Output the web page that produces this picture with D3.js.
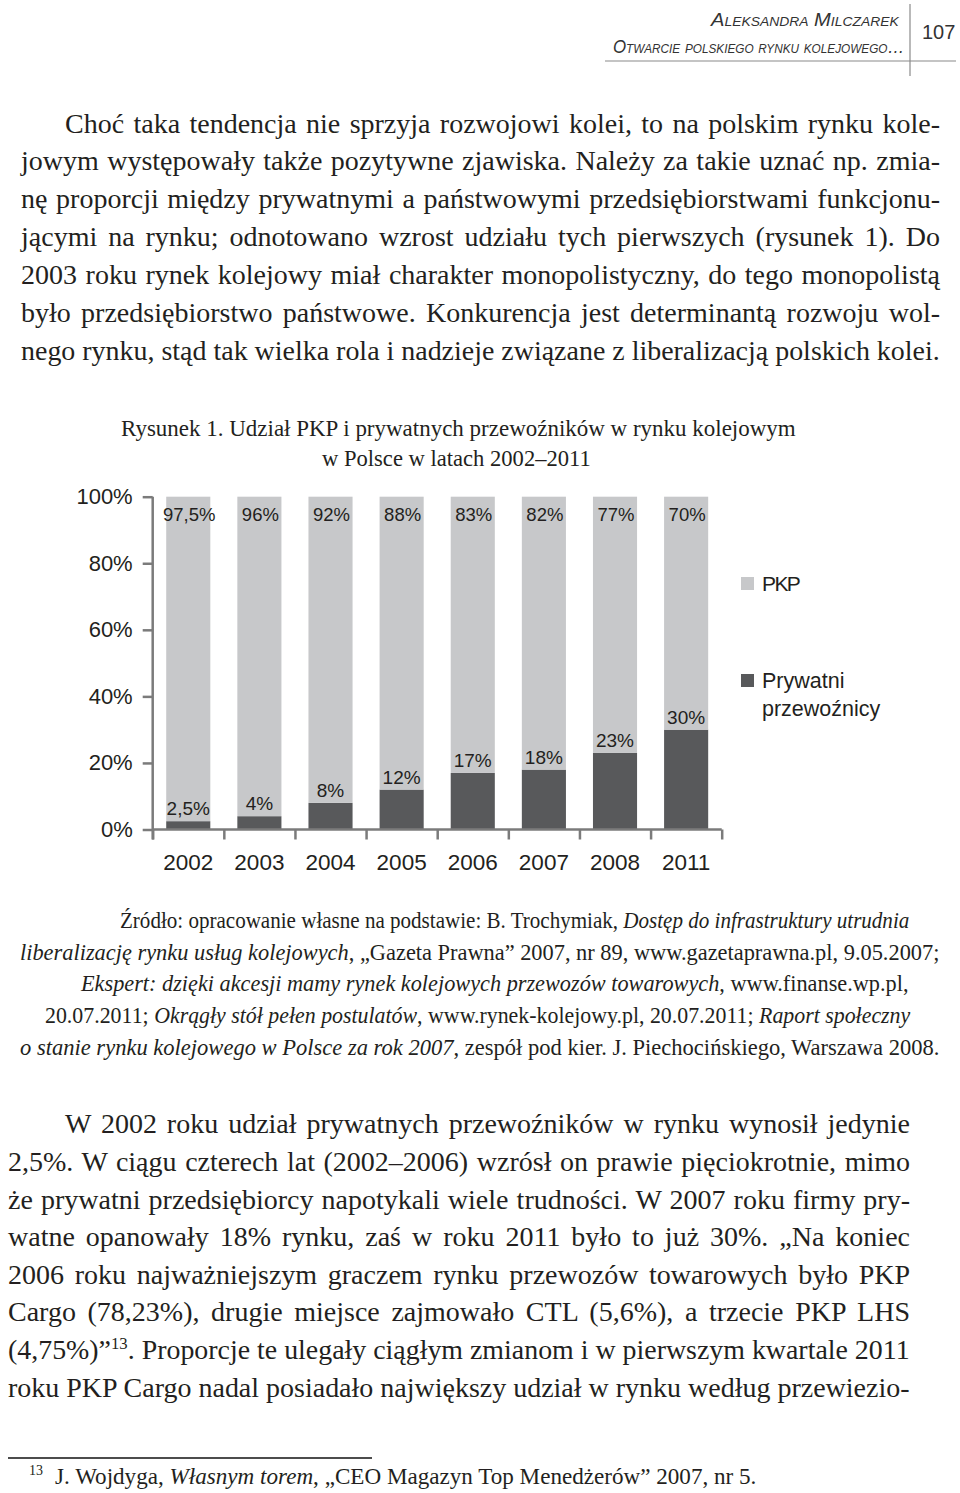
<!DOCTYPE html>
<html><head><meta charset="utf-8">
<script src="https://cdn.jsdelivr.net/npm/d3@7"></script>
<style>html,body{margin:0;padding:0;background:#fff;}svg{display:block;}</style>
</head><body>
<script>
// ---------- DATA ----------
const years = ["2002","2003","2004","2005","2006","2007","2008","2011"];
const pkp = [97.5,96,92,88,83,82,77,70];
const prywatni = [2.5,4,8,12,17,18,23,30];
const yTicks = [0,20,40,60,80,100];
const seriesNames = ["PKP","Prywatni przewoźnicy"];

const headerLines = ["Aleksandra Milczarek","Otwarcie polskiego rynku kolejowego…"];
const pageNumber = "107";
const captionLines = ["Rysunek 1. Udział PKP i prywatnych przewoźników w rynku kolejowym","w Polsce w latach 2002–2011"];
const para1 = [
 "Choć taka tendencja nie sprzyja rozwojowi kolei, to na polskim rynku kole-",
 "jowym występowały także pozytywne zjawiska. Należy za takie uznać np. zmia-",
 "nę proporcji między prywatnymi a państwowymi przedsiębiorstwami funkcjonu-",
 "jącymi na rynku; odnotowano wzrost udziału tych pierwszych (rysunek 1). Do",
 "2003 roku rynek kolejowy miał charakter monopolistyczny, do tego monopolistą",
 "było przedsiębiorstwo państwowe. Konkurencja jest determinantą rozwoju wol-",
 "nego rynku, stąd tak wielka rola i nadzieje związane z liberalizacją polskich kolei."
];
const para2 = [
 [{t:"W 2002 roku udział prywatnych przewoźników w rynku wynosił jedynie"}],
 [{t:"2,5%. W ciągu czterech lat (2002–2006) wzrósł on prawie pięciokrotnie, mimo"}],
 [{t:"że prywatni przedsiębiorcy napotykali wiele trudności. W 2007 roku firmy pry-"}],
 [{t:"watne opanowały 18% rynku, zaś w roku 2011 było to już 30%. „Na koniec"}],
 [{t:"2006 roku najważniejszym graczem rynku przewozów towarowych było PKP"}],
 [{t:"Cargo (78,23%), drugie miejsce zajmowało CTL (5,6%), a trzecie PKP LHS"}],
 [{t:"(4,75%)”"},{t:"13",sup:true},{t:". Proporcje te ulegały ciągłym zmianom i w pierwszym kwartale 2011"}],
 [{t:"roku PKP Cargo nadal posiadało największy udział w rynku według przewiezio-"}]
];
const sourceLines = [
 [{t:"Źródło: opracowanie własne na podstawie: B. Trochymiak, "},{t:"Dostęp do infrastruktury utrudnia",i:true}],
 [{t:"liberalizację rynku usług kolejowych",i:true},{t:", „Gazeta Prawna” 2007, nr 89, www.gazetaprawna.pl, 9.05.2007;"}],
 [{t:"Ekspert: dzięki akcesji mamy rynek kolejowych przewozów towarowych",i:true},{t:", www.finanse.wp.pl,"}],
 [{t:"20.07.2011; "},{t:"Okrągły stół pełen postulatów",i:true},{t:", www.rynek-kolejowy.pl, 20.07.2011; "},{t:"Raport społeczny",i:true}],
 [{t:"o stanie rynku kolejowego w Polsce za rok 2007",i:true},{t:", zespół pod kier. J. Piechocińskiego, Warszawa 2008."}]
];
const footnoteNum = "13";
const footnote = [{t:"J. Wojdyga, "},{t:"Własnym torem",i:true},{t:", „CEO Magazyn Top Menedżerów” 2007, nr 5."}];

// ---------- SETUP ----------
const W = 960, H = 1493;
const svg = d3.select("body").append("svg").attr("width", W).attr("height", H);
const SERIF = "'Liberation Serif','Times New Roman',serif";
const SANS = "'Liberation Sans',Arial,sans-serif";
const INK = "#231f20";

function drawLine(parent, segs, x0, x1, y, o) {
  const t = parent.append("text")
    .attr("transform", `translate(${x0},${y})`)
    .style("white-space", "pre")
    .attr("font-family", o.family).attr("font-size", o.size)
    .attr("fill", o.fill || INK);
  if (o.variant) t.style("font-variant", o.variant);
  if (o.italic) t.attr("font-style", "italic");
  let prevSup = false;
  segs.forEach(s => {
    const ts = t.append("tspan").text(s.t);
    if (s.i) ts.attr("font-style", "italic");
    if (s.sup) { ts.attr("font-size", o.size * 0.6).attr("dy", -o.size * 0.35); prevSup = true; }
    else if (prevSup) { ts.attr("dy", o.size * 0.35); prevSup = false; }
  });
  const w = t.node().getComputedTextLength();
  const target = x1 - x0;
  const text = segs.map(s => s.t).join("");
  const n = (text.match(/ /g) || []).length;
  if (o.mode === "justify" && w <= target && n > 0) {
    t.style("word-spacing", ((target - w) / n) + "px");
  } else if (o.mode === "justify" || o.mode === "scale") {
    t.attr("transform", `translate(${x0},${y}) scale(${target / w},1)`);
  }
  return t;
}

// ---------- HEADER ----------
const hdr = svg.append("g");
drawLine(hdr, [{t:headerLines[0]}], 711, 898, 26, {family:SANS,size:17.5,italic:true,variant:"small-caps",mode:"scale",fill:"#333"});
drawLine(hdr, [{t:headerLines[1]}], 613, 900, 53, {family:SANS,size:17.5,italic:true,variant:"small-caps",mode:"scale",fill:"#333"});
hdr.append("text").attr("x", 922).attr("y", 39).attr("font-family", SANS).attr("font-size", 20).attr("fill", "#333").text(pageNumber);
hdr.append("line").attr("x1", 605).attr("x2", 956).attr("y1", 61).attr("y2", 61).attr("stroke", "#8a8a8a").attr("stroke-width", 1.2);
hdr.append("line").attr("x1", 910).attr("x2", 910).attr("y1", 4).attr("y2", 76).attr("stroke", "#8a8a8a").attr("stroke-width", 1.2);

// ---------- PARAGRAPH 1 ----------
const body = svg.append("g");
para1.forEach((l, i) => {
  const y = 132.5 + i * 37.95;
  drawLine(body, [{t:l}], i === 0 ? 65 : 21, 940, y, {family:SERIF,size:28,mode:"justify"});
});

// ---------- CAPTION ----------
drawLine(body, [{t:captionLines[0]}], 121, 796, 436, {family:SERIF,size:22.5,mode:"scale"});
drawLine(body, [{t:captionLines[1]}], 322, 591, 466, {family:SERIF,size:22.5,mode:"scale"});

// ---------- CHART ----------
const x0 = 152.7, x1 = 721.7, yBase = 829.5, yTop = 496.7;
const x = d3.scaleBand().domain(years).range([x0, x1]).paddingInner(0.38).paddingOuter(0.19);
const xEdges = d3.scaleLinear().domain([0, years.length]).range([x0, x1]);
const y = d3.scaleLinear().domain([0, 100]).range([yBase, yTop]);
const color = d3.scaleOrdinal().domain(seriesNames).range(["#c7c8ca", "#58595b"]);
const pl = d3.formatLocale({decimal: ",", thousands: " ", grouping: [3], currency: ["", " zł"]});
const fmt = v => pl.format("~")(v) + "%";

const rows = years.map((yr, i) => ({year: yr, "PKP": pkp[i], "Prywatni przewoźnicy": prywatni[i]}));
const stack = d3.stack().keys(["Prywatni przewoźnicy", "PKP"])(rows);

const chart = svg.append("g");
chart.selectAll("g.series").data(stack).join("g").attr("class", "series")
  .attr("fill", d => color(d.key))
  .selectAll("rect").data(d => d).join("rect")
  .attr("x", d => x(d.data.year)).attr("width", x.bandwidth())
  .attr("y", d => y(d[1])).attr("height", d => y(d[0]) - y(d[1]));

// axes
const AX = "#7b7b7b";
const yAxis = chart.append("g").attr("transform", `translate(${x0},0)`)
  .call(d3.axisLeft(y).tickValues(yTicks).tickSize(10).tickPadding(10).tickFormat(d => d + "%"));
yAxis.select(".domain").attr("stroke", AX).attr("stroke-width", 2.5).attr("d", `M0,${yTop}V${yBase + 10}`);
yAxis.selectAll(".tick line").attr("stroke", AX).attr("stroke-width", 2.5);
yAxis.selectAll(".tick text").attr("font-family", SANS).attr("font-size", 22).attr("fill", INK);

const xAxis = chart.append("g").attr("transform", `translate(0,${yBase})`)
  .call(d3.axisBottom(xEdges).tickValues(d3.range(years.length + 1)).tickSize(10).tickFormat(""));
xAxis.select(".domain").attr("stroke", AX).attr("stroke-width", 2.5).attr("d", `M${x0},0H${x1}`);
xAxis.selectAll(".tick line").attr("stroke", AX).attr("stroke-width", 2.5);

const xLab = chart.append("g").attr("transform", `translate(0,${yBase})`)
  .call(d3.axisBottom(x).tickSize(0).tickPadding(0));
xLab.select(".domain").remove();
xLab.selectAll(".tick text").attr("font-family", SANS).attr("font-size", 22.5).attr("fill", INK)
  .attr("dy", null).attr("y", 870 - yBase);

// value labels
chart.append("g").selectAll("text").data(rows).join("text")
  .attr("x", d => x(d.year) + x.bandwidth() / 2 + 1).attr("y", 521)
  .attr("text-anchor", "middle").attr("font-family", SANS).attr("font-size", 18.5).attr("fill", INK)
  .text(d => fmt(d["PKP"]));
chart.append("g").selectAll("text").data(rows).join("text")
  .attr("x", d => x(d.year) + x.bandwidth() / 2).attr("y", d => y(d["Prywatni przewoźnicy"]) - 6)
  .attr("text-anchor", "middle").attr("font-family", SANS).attr("font-size", 19).attr("fill", INK)
  .text(d => fmt(d["Prywatni przewoźnicy"]));

// legend
const leg = chart.append("g");
leg.append("rect").attr("x", 741).attr("y", 577).attr("width", 13).attr("height", 13).attr("fill", color("PKP"));
leg.append("text").attr("x", 762).attr("y", 591).attr("font-family", SANS).attr("font-size", 21)
  .attr("letter-spacing", -1.6).attr("fill", INK).text(seriesNames[0]);
leg.append("rect").attr("x", 741).attr("y", 674).attr("width", 13).attr("height", 13).attr("fill", color(seriesNames[1]));
const lt = leg.append("text").attr("font-family", SANS).attr("font-size", 21.5).attr("fill", INK);
seriesNames[1].split(" ").forEach((w, i) => lt.append("tspan").attr("x", 762).attr("y", 688 + i * 28).text(w));

// ---------- SOURCE ----------
const srcSpans = [[120,910],[20,940],[81,909],[45,911],[20,940]];
sourceLines.forEach((segs, i) => {
  drawLine(body, segs, srcSpans[i][0], srcSpans[i][1], 928 + i * 31.7, {family:SERIF,size:23.5,mode:"scale"});
});

// ---------- PARAGRAPH 2 ----------
para2.forEach((segs, i) => {
  const yy = 1133.3 + i * 37.63;
  drawLine(body, segs, i === 0 ? 65 : 8, 910, yy, {family:SERIF,size:28,mode:"justify"});
});

// ---------- FOOTNOTE ----------
body.append("line").attr("x1", 8).attr("x2", 372).attr("y1", 1458).attr("y2", 1458).attr("stroke", "#111").attr("stroke-width", 1.3);
body.append("text").attr("x", 29).attr("y", 1475).attr("font-family", SERIF).attr("font-size", 14).attr("fill", INK).text(footnoteNum);
drawLine(body, footnote, 55, 757, 1484, {family:SERIF,size:24,mode:"scale"});
</script>
</body></html>
